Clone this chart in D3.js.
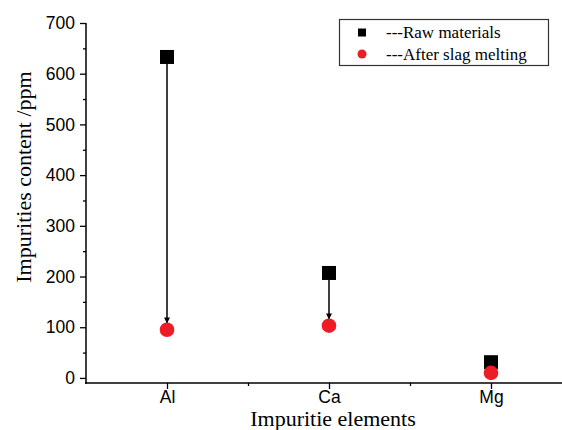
<!DOCTYPE html>
<html>
<head>
<meta charset="utf-8">
<script src="https://cdn.jsdelivr.net/npm/d3@7"></script>
<style>
  body { margin: 0; background: #fff; }
  svg { display: block; }
</style>
</head>
<body>
<svg id="chart" width="562" height="430"></svg>
<script>
// data
var elements = ["Al", "Ca", "Mg"];
var rawValues = [633, 207, 31];
var slagValues = [95, 103, 10];
var yTicks = [0, 100, 200, 300, 400, 500, 600, 700];
var yMinorTicks = [50, 150, 250, 350, 450, 550, 650];
var xMinorTicks = [1.5, 2.5, 3.5];
var seriesNames = ["---Raw materials", "---After slag melting"];

var svg = d3.select("#chart");

var x = d3.scaleLinear().domain([0.5, 3.5]).range([86, 572]);
var y = d3.scaleLinear().domain([-10, 700]).range([383, 23]);

var numFont = "'Liberation Sans', Arial, sans-serif";
var serif = "'Liberation Serif', 'Times New Roman', serif";

// y axis
var yAxis = svg.append("g").attr("transform", "translate(86,0)")
    .call(d3.axisLeft(y).tickValues(yTicks).tickSize(6).tickPadding(5));
yAxis.select(".domain").remove();
yAxis.selectAll("text").style("font-family", numFont).style("font-size", "17.5px").attr("fill", "#000");
yAxis.selectAll("line").attr("stroke", "#000").attr("stroke-width", 1.3);
var yMinor = svg.append("g").attr("transform", "translate(86,0)")
    .call(d3.axisLeft(y).tickValues(yMinorTicks).tickSize(3).tickFormat(""));
yMinor.select(".domain").remove();
yMinor.selectAll("line").attr("stroke", "#000").attr("stroke-width", 1.3);
svg.append("line")
    .attr("x1", 86).attr("x2", 86)
    .attr("y1", y(700)).attr("y2", 384)
    .attr("stroke", "#000").attr("stroke-width", 1.5);

// x axis
var xAxis = svg.append("g").attr("transform", "translate(0,383)")
    .call(d3.axisBottom(x).tickValues([1, 2, 3]).tickSize(6).tickPadding(2)
        .tickFormat(function (d) { return elements[d - 1]; }));
xAxis.select(".domain").remove();
xAxis.selectAll("text").style("font-family", numFont).style("font-size", "17.5px").attr("fill", "#000");
xAxis.selectAll("line").attr("stroke", "#000").attr("stroke-width", 1.3);
var xMinor = svg.append("g").attr("transform", "translate(0,383)")
    .call(d3.axisBottom(x).tickValues(xMinorTicks).tickSize(3).tickFormat(""));
xMinor.select(".domain").remove();
xMinor.selectAll("line").attr("stroke", "#000").attr("stroke-width", 1.3);
svg.append("line")
    .attr("x1", 85).attr("x2", 562)
    .attr("y1", 383).attr("y2", 383)
    .attr("stroke", "#000").attr("stroke-width", 1.5);

// axis titles
svg.append("text")
    .attr("transform", "translate(31,177) rotate(-90)")
    .attr("text-anchor", "middle")
    .style("font-family", serif).style("font-size", "22px")
    .text("Impurities content /ppm");
svg.append("text")
    .attr("x", 333).attr("y", 426)
    .attr("text-anchor", "middle")
    .style("font-family", serif).style("font-size", "22px")
    .text("Impuritie elements");

// arrows
svg.append("defs").append("marker")
    .attr("id", "arrow")
    .attr("viewBox", "0 0 10 10")
    .attr("refX", 10).attr("refY", 5)
    .attr("markerWidth", 6).attr("markerHeight", 6)
    .attr("markerUnits", "userSpaceOnUse")
    .attr("orient", "auto")
    .append("path").attr("d", "M0,0 L10,5 L0,10 z").attr("fill", "#000");

var sq = 14, r = 7.3;
var arrowIdx = [0, 1];
svg.append("g").selectAll("line")
    .data(arrowIdx)
    .join("line")
    .attr("x1", function (i) { return x(i + 1); })
    .attr("x2", function (i) { return x(i + 1); })
    .attr("y1", function (i) { return y(rawValues[i]) + sq / 2; })
    .attr("y2", function (i) { return y(slagValues[i]) - r + 1; })
    .attr("stroke", "#000").attr("stroke-width", 1.5)
    .attr("marker-end", "url(#arrow)");

// points
svg.append("g").selectAll("rect")
    .data(rawValues)
    .join("rect")
    .attr("x", function (d, i) { return x(i + 1) - sq / 2; })
    .attr("y", function (d) { return y(d) - sq / 2; })
    .attr("width", sq).attr("height", sq)
    .attr("fill", "#000");
svg.append("g").selectAll("circle")
    .data(slagValues)
    .join("circle")
    .attr("cx", function (d, i) { return x(i + 1); })
    .attr("cy", function (d) { return y(d); })
    .attr("r", r)
    .attr("fill", "#ee1c25");

// legend
var legend = svg.append("g");
legend.append("rect")
    .attr("x", 339.5).attr("y", 19.5).attr("width", 209).attr("height", 46)
    .attr("fill", "#fff").attr("stroke", "#333").attr("stroke-width", 1.2);
legend.append("rect").attr("x", 358).attr("y", 28.5).attr("width", 8).attr("height", 8).attr("fill", "#000");
legend.append("circle").attr("cx", 362).attr("cy", 54).attr("r", 4.5).attr("fill", "#ee1c25");
legend.selectAll("text")
    .data(seriesNames)
    .join("text")
    .attr("x", 386)
    .attr("y", function (d, i) { return 38 + i * 22; })
    .style("font-family", serif).style("font-size", "17px")
    .text(function (d) { return d; });
</script>
</body>
</html>
